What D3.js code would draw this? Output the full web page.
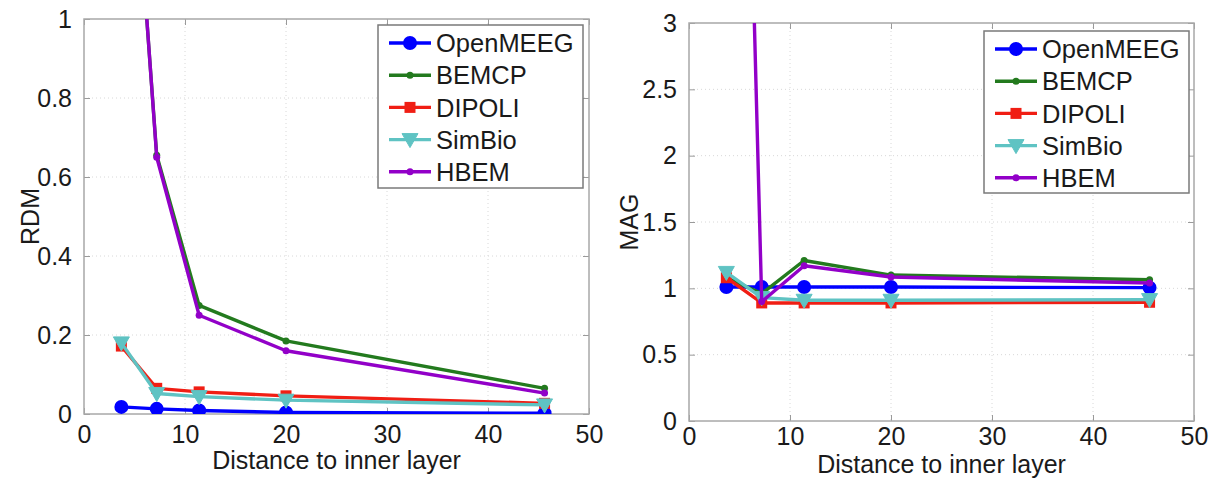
<!DOCTYPE html>
<html>
<head>
<meta charset="utf-8">
<script src="https://cdn.jsdelivr.net/npm/d3@7"></script>
<style>
  html, body { margin: 0; padding: 0; background: #fff; }
  svg { display: block; font-family: "Liberation Sans", Arial, Helvetica, sans-serif; }
</style>
</head>
<body>
<svg id="chart" width="1214" height="479"></svg>
<script>
// ---------- data ----------
const distances = [3.7, 7.2, 11.4, 20, 45.6];
const methods = ["OpenMEEG", "BEMCP", "DIPOLI", "SimBio", "HBEM"];

const rdmOpenMEEG = [0.018, 0.013, 0.009, 0.004, 0.002];
const rdmBEMCP    = [1.88, 0.655, 0.275, 0.185, 0.065];
const rdmDIPOLI   = [0.172, 0.065, 0.056, 0.046, 0.027];
const rdmSimBio   = [0.180, 0.052, 0.044, 0.035, 0.023];
const rdmHBEM     = [1.90, 0.650, 0.250, 0.160, 0.053];

const magOpenMEEG = [1.01, 1.01, 1.01, 1.01, 1.005];
const magBEMCP    = [1.08, 0.96, 1.21, 1.10, 1.065];
const magDIPOLI   = [1.08, 0.89, 0.89, 0.89, 0.895];
const magSimBio   = [1.12, 0.93, 0.91, 0.91, 0.915];
const magHBEM     = [11.0, 0.90, 1.17, 1.085, 1.04];

const xTicks = [0, 10, 20, 30, 40, 50];
const xTickLabels = ["0", "10", "20", "30", "40", "50"];
const rdmTicks = [0, 0.2, 0.4, 0.6, 0.8, 1];
const rdmTickLabels = ["0", "0.2", "0.4", "0.6", "0.8", "1"];
const magTicks = [0, 0.5, 1, 1.5, 2, 2.5, 3];
const magTickLabels = ["0", "0.5", "1", "1.5", "2", "2.5", "3"];

const colors = ["#0000ff", "#237a1e", "#f01e14", "#5fc3c3", "#9200c8"];
const markers = ["circle", "dot", "square", "triangle", "dot"];

// ---------- drawing ----------
const svg = d3.select("#chart");
const FONT = 25;

function drawPanel(cfg, idx) {
  const x = d3.scaleLinear().domain([0, 50]).range([cfg.left, cfg.right]);
  const y = d3.scaleLinear().domain(cfg.yDomain).range([cfg.bottom, cfg.top]);
  const g = svg.append("g");

  const clipId = "clip" + idx;
  svg.append("clipPath").attr("id", clipId)
    .append("rect")
    .attr("x", cfg.left).attr("y", cfg.top)
    .attr("width", cfg.right - cfg.left).attr("height", cfg.bottom - cfg.top);

  // grid
  g.selectAll(".vgrid").data(xTicks.slice(1, -1)).enter().append("line")
    .attr("x1", d => x(d)).attr("x2", d => x(d))
    .attr("y1", cfg.top).attr("y2", cfg.bottom)
    .attr("stroke", "#d8d8d8").attr("stroke-width", 1).attr("stroke-dasharray", "1,3");
  g.selectAll(".hgrid").data(cfg.yTicks.slice(1, -1)).enter().append("line")
    .attr("y1", d => y(d)).attr("y2", d => y(d))
    .attr("x1", cfg.left).attr("x2", cfg.right)
    .attr("stroke", "#d8d8d8").attr("stroke-width", 1).attr("stroke-dasharray", "1,3");

  // axes via d3 axis (inward ticks, labels drawn from arrays)
  const xAxis = d3.axisBottom(x).tickValues(xTicks).tickSize(-6).tickPadding(cfg.xPad)
    .tickFormat((d, i) => xTickLabels[i]);
  const xAxisTop = d3.axisTop(x).tickValues(xTicks).tickSize(-6).tickFormat("");
  const yAxis = d3.axisLeft(y).tickValues(cfg.yTicks).tickSize(-6).tickPadding(12)
    .tickFormat((d, i) => cfg.yTickLabels[i]);
  const yAxisRight = d3.axisRight(y).tickValues(cfg.yTicks).tickSize(-6).tickFormat("");

  const styleAxis = sel => {
    sel.select(".domain").remove();
    sel.selectAll(".tick line").attr("stroke", "#9a9a9a").attr("stroke-width", 1);
    sel.selectAll(".tick text").attr("fill", "#1a1a1a").style("font-size", FONT + "px")
      .style("font-family", "'Liberation Sans', Arial, sans-serif");
  };
  g.append("g").attr("transform", `translate(0,${cfg.bottom})`).call(xAxis).call(styleAxis)
    .selectAll(".tick text").attr("dy", "0.71em");
  g.append("g").attr("transform", `translate(0,${cfg.top})`).call(xAxisTop).call(styleAxis);
  g.append("g").attr("transform", `translate(${cfg.left},0)`).call(yAxis).call(styleAxis);
  g.append("g").attr("transform", `translate(${cfg.right},0)`).call(yAxisRight).call(styleAxis);

  // box
  g.append("rect").attr("x", cfg.left).attr("y", cfg.top)
    .attr("width", cfg.right - cfg.left).attr("height", cfg.bottom - cfg.top)
    .attr("fill", "none").attr("stroke", "#a8a8a8").attr("stroke-width", 1.5);

  // lines
  const line = d3.line().x(d => x(d[0])).y(d => y(d[1]));
  const plot = g.append("g").attr("clip-path", `url(#${clipId})`);
  cfg.series.forEach((vals, i) => {
    const pts = distances.map((d, j) => [d, vals[j]]);
    plot.append("path").attr("d", line(pts))
      .attr("fill", "none").attr("stroke", colors[i]).attr("stroke-width", 3.4)
      .attr("stroke-linejoin", "round");
    const visible = pts.filter(p => p[1] >= cfg.yDomain[0] && p[1] <= cfg.yDomain[1]);
    visible.forEach(p => drawMarker(plot, markers[i], x(p[0]), y(p[1]), colors[i]));
  });

  // axis labels
  g.append("text").attr("x", (cfg.left + cfg.right) / 2).attr("y", cfg.bottom + cfg.xlabelOff)
    .attr("text-anchor", "middle").attr("fill", "#1a1a1a").style("font-size", FONT + "px")
    .text("Distance to inner layer");
  g.append("text")
    .attr("transform", `translate(${cfg.ylabelX},${(cfg.top + cfg.bottom) / 2}) rotate(-90)`)
    .attr("text-anchor", "middle").attr("dy", "0.35em").attr("fill", "#1a1a1a")
    .style("font-size", FONT + "px").text(cfg.ylabel);

  // legend
  const L = cfg.legend;
  const lg = g.append("g");
  lg.append("rect").attr("x", L.x).attr("y", L.y).attr("width", L.w).attr("height", L.h)
    .attr("fill", "#fff").attr("stroke", "#7a7a7a").attr("stroke-width", 1.5);
  methods.forEach((m, i) => {
    const cy = L.y + 18 + i * 32.2;
    lg.append("line").attr("x1", L.x + 11).attr("x2", L.x + 53)
      .attr("y1", cy).attr("y2", cy).attr("stroke", colors[i]).attr("stroke-width", 3.4);
    drawMarker(lg, markers[i], L.x + 32, cy, colors[i]);
    lg.append("text").attr("x", L.x + 58).attr("y", cy).attr("dy", "0.36em")
      .attr("fill", "#1a1a1a").style("font-size", "25.5px").text(m);
  });
}

function drawMarker(sel, type, cx, cy, color) {
  if (type === "circle") {
    sel.append("circle").attr("cx", cx).attr("cy", cy).attr("r", 6)
      .attr("fill", color).attr("stroke", color).attr("stroke-width", 2);
  } else if (type === "dot") {
    sel.append("circle").attr("cx", cx).attr("cy", cy).attr("r", 3.5).attr("fill", color);
  } else if (type === "square") {
    sel.append("rect").attr("x", cx - 5.5).attr("y", cy - 5.5).attr("width", 11).attr("height", 11)
      .attr("fill", color);
  } else if (type === "triangle") {
    sel.append("path").attr("d", `M${cx - 8},${cy - 6} L${cx + 8},${cy - 6} L${cx},${cy + 8} Z`)
      .attr("fill", color).attr("stroke", color).attr("stroke-width", 1);
  }
}

drawPanel({
  left: 84, right: 589, top: 19, bottom: 414,
  yDomain: [0, 1], yTicks: rdmTicks, yTickLabels: rdmTickLabels,
  ylabel: "RDM", ylabelX: 30, xPad: 11, xlabelOff: 55,
  series: [rdmOpenMEEG, rdmBEMCP, rdmDIPOLI, rdmSimBio, rdmHBEM],
  legend: { x: 378, y: 25, w: 205, h: 163 }
}, 0);

drawPanel({
  left: 689, right: 1194, top: 23, bottom: 421,
  yDomain: [0, 3], yTicks: magTicks, yTickLabels: magTickLabels,
  ylabel: "MAG", ylabelX: 629, xPad: 6, xlabelOff: 52,
  series: [magOpenMEEG, magBEMCP, magDIPOLI, magSimBio, magHBEM],
  legend: { x: 984, y: 31, w: 205, h: 162 }
}, 1);
</script>
</body>
</html>
